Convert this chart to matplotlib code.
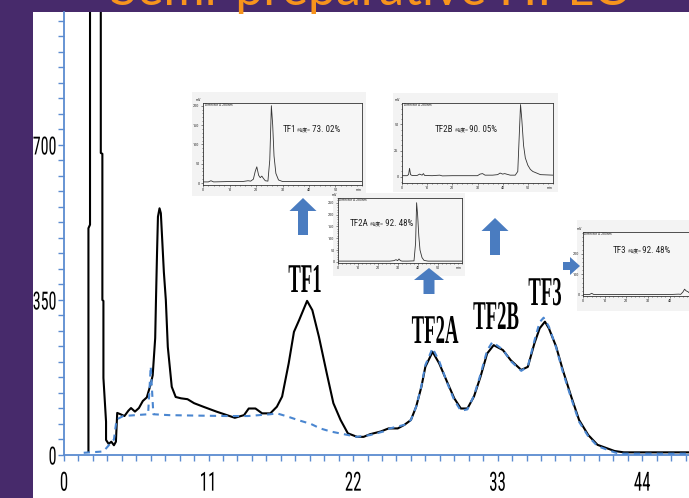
import matplotlib
matplotlib.use('Agg')
import matplotlib.pyplot as plt
from matplotlib import font_manager as fm
from matplotlib.patches import Rectangle, FancyArrow
from matplotlib.patheffects import AbstractPathEffect
from matplotlib.ticker import MultipleLocator
from matplotlib.transforms import Affine2D

# ---------------- data ----------------
# main chromatogram (black, solid)
main_x = [1.86, 1.86, 1.98, 1.98, 2.4, 2.80, 2.80, 2.92, 2.92, 3.00, 3.00, 3.2, 3.2, 3.4, 3.6, 3.8, 3.95,
          4.05, 4.3, 4.6, 4.9, 5.1, 5.4, 5.7, 6.0, 6.3, 6.6, 6.75, 6.94, 7.0, 7.08, 7.15, 7.27, 7.37, 7.45,
          7.6, 7.75, 7.9, 8.05, 8.2, 8.5, 8.9, 9.4, 9.9, 10.6, 11.6, 12.4, 13.0, 13.7, 14.06, 14.57, 15.08,
          15.7, 16.2, 16.6, 17.1, 17.5, 17.9, 18.5, 18.9, 19.4, 20.0, 20.5, 21.05, 21.6, 22.3, 22.8, 23.3,
          24.1, 24.7, 25.4, 25.9, 26.4, 26.8, 27.2, 27.5, 28.05, 28.55, 29.2, 29.7, 30.2, 30.7, 31.2, 31.7,
          32.2, 32.7, 33.4, 34.0, 34.8, 35.3, 35.8, 36.2, 36.6, 36.9, 37.45, 37.96, 38.6, 39.2, 39.9, 40.6,
          41.9, 42.6, 47.7]
main_y = [8, 512, 520, 1100, 1300, 1100, 682, 680, 350, 348, 174, 75, 34, 25, 30, 22, 30,
          95, 92, 88, 100, 106, 98, 106, 122, 130, 160, 180, 264, 350, 456, 538, 557, 546, 500,
          413, 350, 244, 199, 154, 131, 128, 126, 117, 109, 98, 90, 84, 90, 105, 105, 94,
          94, 109, 132, 207, 278, 305, 348, 327, 267, 184, 117, 79, 49, 41, 41, 47,
          53, 60, 60, 68, 79, 109, 154, 199, 233, 207, 162, 128, 105, 105, 132, 177,
          229, 248, 237, 214, 192, 199, 252, 286, 301, 286, 245, 192, 132, 79, 45, 23,
          9, 6, 6]

# second trace (blue, dashed)
blue_x = [1.5, 3.0, 3.5, 3.8, 4.0, 4.5, 6.4, 6.6, 6.8, 8.0, 10.0, 12.4, 14.0, 15.7, 16.2, 17.0, 17.8,
          18.8, 19.5, 20.3, 21.3, 22.3, 23.3, 24.3, 24.8, 25.9, 26.4, 26.8, 27.2, 27.5, 28.05, 28.55,
          29.2, 29.7, 30.2, 30.7, 31.2, 31.7, 32.2, 32.6, 33.4, 34.0, 34.8, 35.3, 35.8, 36.2, 36.5,
          36.9, 37.45, 37.96, 38.6, 39.2, 39.9, 40.6, 41.9, 42.3, 47.7]
blue_y = [5, 8, 25, 35, 80, 88, 92, 200, 92, 90, 89, 88, 88, 92, 94, 87, 79,
          70, 60, 53, 47, 41, 45, 53, 60, 68, 79, 109, 156, 203, 241, 212,
          160, 124, 100, 103, 134, 182, 236, 255, 238, 212, 190, 200, 258, 300, 310,
          290, 243, 188, 128, 75, 42, 20, 6, 3, 3]

x_major = 11
x_minor = 1.1
y_major = 350
y_minor = 35

peak_labels = ['TF1', 'TF2A', 'TF2B', 'TF3']

# inset chromatograms
tf1_x = [0, 2, 3, 4, 10, 15, 17, 18, 19, 19.7, 20.3, 21, 21.6, 22.2, 22.8, 23.5, 24.5, 25.2, 25.8,
         26.3, 26.8, 27.5, 28.5, 30, 40, 60]
tf1_y = [3, 3, 6, 3, 4, 4, 6, 5, 10, 30, 42, 20, 14, 18, 12, 6, 5, 60, 200, 150, 70, 25, 8, 4, 4, 4]

tf2b_x = [0, 2, 2.6, 3.0, 3.4, 4, 6, 7, 8, 8.5, 9, 12, 15, 16, 20, 30, 31, 32, 33, 36, 38, 39, 40,
          40.8, 41.5, 43, 45, 46, 46.6, 47.1, 47.6, 48.3, 49, 50, 51, 52, 53, 55, 60]
tf2b_y = [1, 1, 2, 8, 2, 1.2, 1.2, 2.5, 1.5, 3, 1.2, 1, 1.5, 0.8, 1, 1, 2.5, 3, 1.5, 1.5, 2, 3.5,
          2.5, 3, 2.5, 1.5, 1.5, 5, 40, 69, 55, 30, 18, 11, 7, 5, 4, 2, 1.5]

tf2a_x = [0, 5, 10, 20, 26, 28, 29, 29.8, 30.5, 31.2, 32, 35, 38, 38.8, 39.3, 39.8, 40.4, 41, 42, 43,
          45, 50, 62]
tf2a_y = [3, 3, 3, 3, 3, 5, 9, 5, 12, 5, 3, 3, 4, 80, 250, 200, 110, 50, 18, 6, 3, 3, 3]

tf3_x = [0, 3, 4, 5, 10, 20, 30, 40, 44, 45, 46, 46.8, 47.5, 48.3, 49, 50, 56]
tf3_y = [2, 2, 8, 2, 2, 2, 2, 2, 4, 3, 14, 28, 20, 16, 10, 8, 6]

inset_names = ['TF1', 'TF2B', 'TF2A', 'TF3']
inset_purity = ['73. 02%', '90. 05%', '92. 48%', '92. 48%']

# ---------------- fonts ----------------
ttf = fm.fontManager.ttflist
names = {f.name for f in ttf}
NARROW = next((n for n in ['Liberation Sans Narrow', 'Arial Narrow', 'Roboto Condensed',
                           'Open Sans Condensed'] if n in names), None)
if NARROW is None:
    narrow_fp = dict(family='DejaVu Sans', stretch='condensed')
else:
    narrow_fp = dict(family=NARROW)
serif_fp = dict(family='Liberation Serif', weight='bold')

plt.rcParams['font.family'] = narrow_fp['family']
if 'stretch' in narrow_fp:
    plt.rcParams['font.stretch'] = narrow_fp['stretch']


class Stretch(AbstractPathEffect):
    """Draw text glyphs with a different aspect (the slide's lettering is tall and narrow)."""

    def __init__(self, sx=1.0, sy=1.0, anchor='center'):
        super().__init__()
        self.sx = sx
        self.sy = sy
        self.anchor = anchor

    def draw_path(self, renderer, gc, tpath, affine, rgbFace=None):
        ext = tpath.get_extents()
        ax0 = ext.x1 if self.anchor == 'right' else 0.5 * (ext.x0 + ext.x1)
        t = Affine2D().translate(-ax0, 0).scale(self.sx, self.sy).translate(ax0, 0) + affine
        renderer.draw_path(gc, tpath, t, rgbFace)


# ---------------- figure ----------------
W, H = 689, 498
fig = plt.figure(figsize=(W / 100, H / 100), dpi=100)
fig.patch.set_facecolor('#472a6b')
pxT = Affine2D().scale(1 / 100, -1 / 100).translate(0, H / 100) + fig.dpi_scale_trans


def fbox(x0, y0, x1, y1):
    return [x0 / W, 1 - y1 / H, (x1 - x0) / W, (y1 - y0) / H]


fig.add_artist(Rectangle((33, 12), W - 33, H - 12, transform=pxT, facecolor='white',
                         edgecolor='none', zorder=0.5))

AX_BLUE = '#5b8bd0'
ax = fig.add_axes(fbox(64, 12, 689, 455))
ax.set_zorder(1)
ax.set_facecolor('none')
ax.set_xlim(0, (689 - 64) / 13.14)
ax.set_ylim(0, (455 - 12) / 0.4429)
for s in ['top', 'right']:
    ax.spines[s].set_visible(False)
for s in ['left', 'bottom']:
    ax.spines[s].set_color(AX_BLUE)
    ax.spines[s].set_linewidth(1.3)
ax.xaxis.set_major_locator(MultipleLocator(x_major))
ax.xaxis.set_minor_locator(MultipleLocator(x_minor))
ax.yaxis.set_major_locator(MultipleLocator(y_major))
ax.yaxis.set_minor_locator(MultipleLocator(y_minor))
ax.tick_params(which='both', direction='out', color=AX_BLUE, width=1.0, length=4)
ax.tick_params(axis='x', labelsize=19, pad=8, labelcolor='black')
ax.tick_params(axis='y', labelsize=18, pad=1, labelcolor='black')

ax.plot(main_x, main_y, color='black', lw=1.5, zorder=3)
ax.plot(blue_x, blue_y, color='#4a86d0', lw=1.5, ls=(0, (3, 2.5)), zorder=4)

# peak labels (pixel positions, baseline); tall narrow lettering as on the slide
label_pos = [(305, 292), (435, 343), (496, 329), (545, 305)]
for name, (px, py) in zip(peak_labels, label_pos):
    fig.text(px, py, name, transform=pxT, ha='center', va='baseline', fontsize=13.5,
             color='black', zorder=8, path_effects=[Stretch(1.0, 2.18)], **serif_fp)

# title (cut off at top of slide)
fig.text(368, 5, 'Semi-preparative HPLC', transform=pxT, ha='center', va='baseline',
         fontsize=36, color='#f7941d', family='Lato', zorder=10)

# ---------------- insets ----------------
renderer = fig.canvas.get_renderer()


def inset(bg, box, xlim, ylim, xs, ys, yticks, ymin, xmin, name, purity, lab_xy,
          xticks=(0, 10, 20, 30, 40, 50), show_min=True):
    fig.add_artist(Rectangle((bg[0], bg[1]), bg[2] - bg[0], bg[3] - bg[1], transform=pxT,
                             facecolor='#f3f3f3', edgecolor='none', zorder=5))
    a = fig.add_axes(fbox(*box))
    a.set_zorder(6)
    a.set_facecolor('#f6f6f6')
    a.set_xlim(*xlim)
    a.set_ylim(*ylim)
    for s in a.spines.values():
        s.set_linewidth(0.6)
        s.set_color('#333333')
    a.plot(xs, ys, color='#333333', lw=0.6)
    a.set_yticks(yticks)
    a.set_xticks(list(xticks))
    a.yaxis.set_minor_locator(MultipleLocator(ymin))
    a.xaxis.set_minor_locator(MultipleLocator(xmin))
    a.tick_params(which='both', direction='out', length=1.5, width=0.4, labelsize=3.2, pad=1,
                  colors='#333333')
    a.tick_params(which='minor', length=1.0)
    a.text(-0.01, 1.01, 'mV', transform=a.transAxes, fontsize=3, ha='right', va='bottom',
           color='#333333')
    a.text(0.01, 0.995, 'Detector A 280nm', transform=a.transAxes, fontsize=2.8, ha='left',
           va='top', color='#333333')
    if show_min:
        a.text(1.0, -0.04, 'min', transform=a.transAxes, fontsize=3, ha='right', va='top',
               color='#333333')
    # purity label
    x, y = lab_xy
    for s, size, fam in [(name, 6.5, [narrow_fp['family']]),
                         (' 纯度=', 3.6, ['Noto Sans CJK SC', 'DejaVu Sans']),
                         (' ' + purity, 6.5, [narrow_fp['family']])]:
        t = fig.text(x, y, s, transform=pxT, fontsize=size, ha='left', va='baseline',
                     family=fam, color='#222222', zorder=9)
        x += t.get_window_extent(renderer).width
    return a


inset((192, 92, 366, 196), (203, 103, 362, 185), (0, 60), (-5, 207), tf1_x, tf1_y,
      [0, 50, 100, 150, 200], 10, 2, inset_names[0], inset_purity[0], (283, 132))
inset((393, 93, 558, 192), (402, 103, 553, 183), (0, 60), (-6, 70.5), tf2b_x, tf2b_y,
      [0, 25, 50], 5, 2, inset_names[1], inset_purity[1], (435, 132))
inset((333, 193, 465, 276), (338, 198, 462, 263), (0, 62), (-5, 270), tf2a_x, tf2a_y,
      [0, 50, 100, 150, 200, 250], 10, 2, inset_names[2], inset_purity[2], (350, 226))
inset((577, 220, 700, 311), (583, 232, 705, 296), (0, 56.2), (-5, 305), tf3_x, tf3_y,
      [0, 100, 200], 20, 2, inset_names[3], inset_purity[3], (613, 253),
      xticks=(0, 10, 20, 30, 40), show_min=False)

# ---------------- arrows ----------------
AC = '#4a7cc0'
for (x, y, dx, dy, w, hw, hl) in [(303, 235, 0, -37, 10, 27, 13),
                                  (495, 255, 0, -37, 10, 27, 13),
                                  (429, 294, 0, -26, 11, 30, 12),
                                  (563, 266, 17, 0, 8, 18, 10)]:
    fig.add_artist(FancyArrow(x, y, dx, dy, width=w, head_width=hw, head_length=hl,
                              length_includes_head=True, transform=pxT, facecolor=AC,
                              edgecolor='none', zorder=7))

# condensed tick lettering
fig.canvas.draw()
for lab in ax.get_xticklabels():
    lab.set_path_effects([Stretch(0.64, 1.0)])
for lab in ax.get_yticklabels():
    lab.set_path_effects([Stretch(0.64, 1.0, anchor='right')])

fig.savefig('out.png', dpi=100, facecolor=fig.get_facecolor())
